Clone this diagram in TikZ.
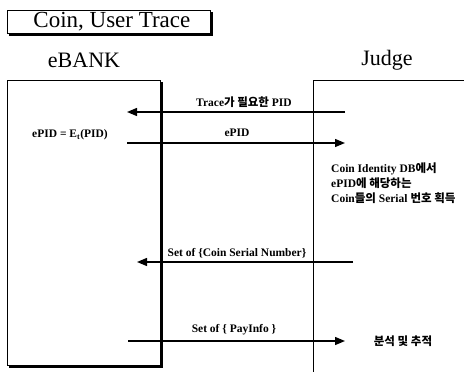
\documentclass[tikz,border=0pt]{standalone}
\usepackage{fontspec}
\setmainfont{Liberation Serif}
\newfontfamily\kr{Noto Sans CJK KR}
\usetikzlibrary{arrows.meta,calc}

\begin{document}
\begin{tikzpicture}[x=1pt,y=-1pt,
  msg/.style={line width=1.3pt,-{Triangle[length=10pt,width=8pt]}},
  lbl/.style={font=\fontsize{11.5}{15}\selectfont\bfseries, inner sep=0pt},
  head/.style={font=\fontsize{22}{24}\selectfont, inner sep=0pt},
  shadow/.style={line width=2pt},
]
\useasboundingbox (0,0) rectangle (464,372);

% title box with drop shadow
\node[draw, line width=0.8pt, minimum width=203pt, minimum height=23pt,
      inner sep=0pt, anchor=north west, font=\fontsize{23}{25}\selectfont]
  (title) at (7,10) {\hspace*{6pt}Coin, User Trace};
\draw[shadow] ($(title.north east)+(1.2,2)$) -- ($(title.south east)+(1.2,1.2)$)
  -- ($(title.south west)+(2,1.2)$);

% participants
\node[head] (bankname) at (84,60) {eBANK};
\node[head] (judgename) at (387,60) {Judge};

% eBANK box with drop shadow
\node[draw, line width=0.8pt, minimum width=153pt, minimum height=285pt,
      inner sep=0pt, anchor=north west] (bank) at (7,80) {};
\draw[shadow] ($(bank.north east)+(1.2,2)$) -- ($(bank.south east)+(1.2,1.2)$)
  -- ($(bank.south west)+(2,1.2)$);

% Judge region: open frame
\coordinate (jbot) at (313,372);
\coordinate (jtop) at (313,80.5);
\coordinate (jright) at (464,80.5);
\draw[line width=1pt] (jbot) -- (jtop) -- (jright);

% computation at eBANK
\node[lbl] (enc) at (70,135) {ePID = E\textsubscript{t}(PID)};

% message endpoints
\coordinate (m1s) at (345,112);  \coordinate (m1e) at (127,112);
\coordinate (m2s) at (127,143);  \coordinate (m2e) at (345,143);
\coordinate (m3s) at (353,262);  \coordinate (m3e) at (137,262);
\coordinate (m4s) at (128,341);  \coordinate (m4e) at (345,341);

\draw[msg] (m1s) -- (m1e);
\draw[msg] (m2s) -- (m2e);
\draw[msg] (m3s) -- (m3e);
\draw[msg] (m4s) -- (m4e);

% message labels
\node[lbl] (l1) at (244,102) {Trace{\kr 가 필요한} PID};
\node[lbl] (l2) at (237,133) {ePID};
\node[lbl] (l3) at (237,253) {Set of \{Coin Serial Number\}};
\node[lbl] (l4) at (234,330) {Set of \{ PayInfo \}};

% Judge side processing
\node[lbl, anchor=west, align=left] (lookup) at (331,183)
  {Coin Identity DB{\kr 에서}\\ePID{\kr 에 해당하는}\\Coin{\kr 들의} Serial {\kr 번호 획득}};
\node[lbl] (analyze) at (403,341) {\kr 분석 및 추적};
\end{tikzpicture}
\end{document}
